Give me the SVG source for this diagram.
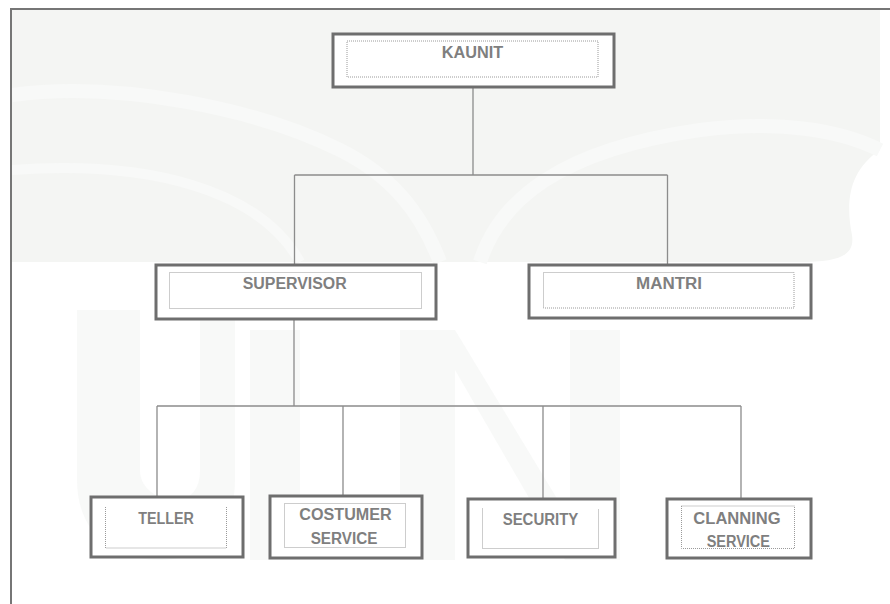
<svg xmlns="http://www.w3.org/2000/svg" width="890" height="604" viewBox="0 0 890 604">
  <style>
    .box { fill: #ffffff; stroke: #6e6e6e; stroke-width: 3; }
    .inner { fill: none; stroke: #9a9a9a; stroke-width: 1; stroke-dasharray: 1 1; }
    .lbl { font-family: "Liberation Sans", Arial, sans-serif; font-weight: bold; font-size: 16px; fill: #7f7f7f; text-anchor: middle; }
    .conn { fill: none; stroke: #8c8c8c; stroke-width: 1.3; }
    .wm { fill: #f4f5f3; }
  </style>
  <rect x="0" y="0" width="890" height="604" fill="#ffffff"/>
  <g id="watermark">
    <path class="wm" d="M12 10 H880 V150 C850 170 845 200 852 235 C855 255 840 262 800 262 H12 Z"/>
    <path d="M12 95 C120 80 260 110 340 150 C390 175 420 210 440 262" fill="none" stroke="#f8f9f8" stroke-width="14"/>
    <path d="M12 170 C150 160 260 190 300 262" fill="none" stroke="#f8f9f8" stroke-width="10"/>
    <path d="M480 262 C500 200 560 150 700 130 C780 120 840 130 880 150" fill="none" stroke="#f8f9f8" stroke-width="14"/>
    <path class="wm" d="M77 310 H140 V470 C140 490 160 500 175 500 C190 500 200 490 200 470 V310 H235 V480 C235 530 205 560 160 560 C110 560 77 530 77 480 Z" opacity="0.6"/>
    <path class="wm" d="M250 330 H300 V560 H250 Z" opacity="0.6"/>
    <path class="wm" d="M400 330 H455 L570 520 V330 H620 V560 H565 L455 370 V560 H400 Z" opacity="0.6"/>
  </g>
  <path id="frame" d="M11 604 V9 H890" fill="none" stroke="#767676" stroke-width="2"/>
  <g id="connectors">
    <path class="conn" d="M473 88 V175 M294.5 175 H667.5 M294.5 175 V264 M667.5 175 V264"/>
    <path class="conn" d="M294 320 V406 M157 406 H741 M157 406 V496 M343 406 V495 M543 406 V498 M741 406 V498"/>
  </g>
  <g id="kaunit">
    <rect class="box" x="333" y="34" width="281" height="53"/>
    <rect class="inner" x="347" y="41" width="251" height="36"/>
    <text class="lbl" x="472.5" y="57.5" textLength="61.5" lengthAdjust="spacingAndGlyphs">KAUNIT</text>
  </g>
  <g id="supervisor">
    <rect class="box" x="156" y="265" width="280" height="54"/>
    <rect class="inner" x="169.5" y="272.5" width="252" height="36"/>
    <text class="lbl" x="294.7" y="288.5" textLength="104" lengthAdjust="spacingAndGlyphs">SUPERVISOR</text>
  </g>
  <g id="mantri">
    <rect class="box" x="529" y="265" width="282" height="53"/>
    <rect class="inner" x="543.5" y="272.5" width="250.5" height="35.5"/>
    <text class="lbl" x="669" y="288.5" textLength="66" lengthAdjust="spacingAndGlyphs">MANTRI</text>
  </g>
  <g id="teller">
    <rect class="box" x="91" y="497" width="152" height="60"/>
    <path class="inner" d="M105.5 507 V548 H226.5 V507"/>
    <text class="lbl" x="166" y="523.5" textLength="55.7" lengthAdjust="spacingAndGlyphs">TELLER</text>
  </g>
  <g id="costumer-service">
    <rect class="box" x="270" y="496" width="152" height="62"/>
    <rect class="inner" x="284.5" y="503.5" width="121" height="44"/>
    <text class="lbl" x="345.5" y="519.5" textLength="92.3" lengthAdjust="spacingAndGlyphs">COSTUMER</text>
    <text class="lbl" x="344" y="544.2" textLength="66.7" lengthAdjust="spacingAndGlyphs">SERVICE</text>
  </g>
  <g id="security">
    <rect class="box" x="468" y="499" width="147" height="58"/>
    <path class="inner" d="M482.5 508.5 V548.5 H598.5 V508.5"/>
    <text class="lbl" x="540.5" y="524.5" textLength="75.7" lengthAdjust="spacingAndGlyphs">SECURITY</text>
  </g>
  <g id="clanning-service">
    <rect class="box" x="667" y="499" width="144" height="59"/>
    <rect class="inner" x="681.5" y="506" width="113" height="42.5"/>
    <text class="lbl" x="737" y="523.5" textLength="87.3" lengthAdjust="spacingAndGlyphs">CLANNING</text>
    <text class="lbl" x="738.3" y="546.8" textLength="63.3" lengthAdjust="spacingAndGlyphs">SERVICE</text>
  </g>
</svg>
